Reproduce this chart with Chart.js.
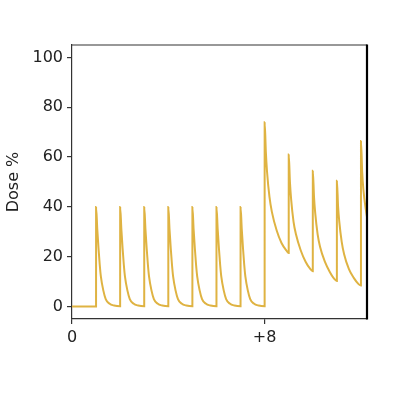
<!DOCTYPE html>
<html>
<head>
<meta charset="utf-8">
<script src="https://cdn.jsdelivr.net/npm/chart.js@4.4.1/dist/chart.umd.min.js"></script>
<style>
html,body{margin:0;padding:0;background:#fff;}
#wrap{width:400px;height:400px;}
</style>
</head>
<body>
<div id="wrap"><canvas id="c" width="400" height="400"></canvas></div>
<script>
// Time (days) and dose (%)
const times = [
  0, 0.999,
  1, 1.05, 1.1, 1.15, 1.2, 1.3, 1.4, 1.55, 1.75, 1.999,
  2, 2.05, 2.1, 2.15, 2.2, 2.3, 2.4, 2.55, 2.75, 2.999,
  3, 3.05, 3.1, 3.15, 3.2, 3.3, 3.4, 3.55, 3.75, 3.999,
  4, 4.05, 4.1, 4.15, 4.2, 4.3, 4.4, 4.55, 4.75, 4.999,
  5, 5.05, 5.1, 5.15, 5.2, 5.3, 5.4, 5.55, 5.75, 5.999,
  6, 6.05, 6.1, 6.15, 6.2, 6.3, 6.4, 6.55, 6.75, 6.999,
  7, 7.05, 7.1, 7.15, 7.2, 7.3, 7.4, 7.55, 7.75, 7.999,
  8, 8.05, 8.1, 8.2, 8.3, 8.5, 8.7, 8.9, 8.999,
  9, 9.05, 9.1, 9.2, 9.3, 9.5, 9.7, 9.9, 9.999,
  10, 10.05, 10.1, 10.2, 10.3, 10.5, 10.7, 10.9, 10.999,
  11, 11.05, 11.1, 11.2, 11.3, 11.5, 11.7, 11.9, 11.999,
  12, 12.05, 12.1, 12.2, 12.25
];
const doses = [
  0, 0,
  40, 31, 23.5, 17, 12, 6.5, 3, 1.2, 0.4, 0.1,
  40, 31, 23.5, 17, 12, 6.5, 3, 1.2, 0.4, 0.1,
  40, 31, 23.5, 17, 12, 6.5, 3, 1.2, 0.4, 0.1,
  40, 31, 23.5, 17, 12, 6.5, 3, 1.2, 0.4, 0.1,
  40, 31, 23.5, 17, 12, 6.5, 3, 1.2, 0.4, 0.1,
  40, 31, 23.5, 17, 12, 6.5, 3, 1.2, 0.4, 0.1,
  40, 31, 23.5, 17, 12, 6.5, 3, 1.2, 0.4, 0.1,
  74, 62, 54, 44, 38, 30.5, 25.5, 22.5, 21.5,
  61, 50, 43, 34, 29, 22.5, 18, 15, 14.2,
  54.5, 44, 37.5, 29, 24, 18, 14, 11, 10.3,
  50.5, 40, 34, 26, 21, 15, 11.5, 9, 8.4,
  66.5, 54, 47, 39, 36
];
const yTicks = [0, 20, 40, 60, 80, 100];
const xTicks = [0, 8];
const xTickLabels = ['0', '+8'];
const yTitle = 'Dose %';

const points = times.map((t, i) => ({x: t, y: doses[i]}));

const frame = {
  id: 'frame',
  afterDraw(chart) {
    const a = chart.chartArea, ctx = chart.ctx;
    ctx.save();
    ctx.strokeStyle = '#333';
    ctx.lineWidth = 1.2;
    ctx.beginPath();
    ctx.moveTo(a.left, a.top);
    ctx.lineTo(a.right, a.top);
    ctx.stroke();
    ctx.strokeStyle = '#000';
    ctx.lineWidth = 2.2;
    ctx.beginPath();
    ctx.moveTo(a.right, a.top - 0.6);
    ctx.lineTo(a.right, a.bottom + 0.6);
    ctx.stroke();
    ctx.restore();
  }
};

const font = {family: 'DejaVu Sans', size: 16};

new Chart(document.getElementById('c'), {
  type: 'line',
  data: {
    datasets: [{
      data: points,
      borderColor: '#DFB342',
      borderWidth: 2,
      pointRadius: 0,
      cubicInterpolationMode: 'monotone',
      fill: false
    }]
  },
  options: {
    responsive: false,
    animation: false,
    layout: {padding: {left: 0, top: 45, right: 33, bottom: 0}},
    plugins: {legend: {display: false}, tooltip: {enabled: false}},
    scales: {
      x: {
        type: 'linear',
        min: 0,
        max: 12.25,
        afterBuildTicks: s => { s.ticks = xTicks.map(v => ({value: v})); },
        afterFit: s => { s.height = 81; },
        ticks: {
          callback: (v) => xTickLabels[xTicks.indexOf(v)],
          color: '#222',
          font: font,
          padding: 4,
          maxRotation: 0,
          autoSkip: false
        },
        grid: {drawOnChartArea: false, drawTicks: true, tickLength: 5, color: '#333', lineWidth: 1.2},
        border: {display: true, color: '#333', width: 1.2}
      },
      y: {
        type: 'linear',
        min: -5,
        max: 105,
        afterBuildTicks: s => { s.ticks = yTicks.map(v => ({value: v})); },
        afterFit: s => { s.width = 72; },
        ticks: {color: '#222', font: font, padding: 4},
        grid: {drawOnChartArea: false, drawTicks: true, tickLength: 5, color: '#333', lineWidth: 1.2},
        border: {display: true, color: '#333', width: 1.2},
        title: {display: true, text: yTitle, color: '#222', font: font, padding: {top: 4, bottom: 4}}
      }
    }
  },
  plugins: [frame]
});
</script>
</body>
</html>
